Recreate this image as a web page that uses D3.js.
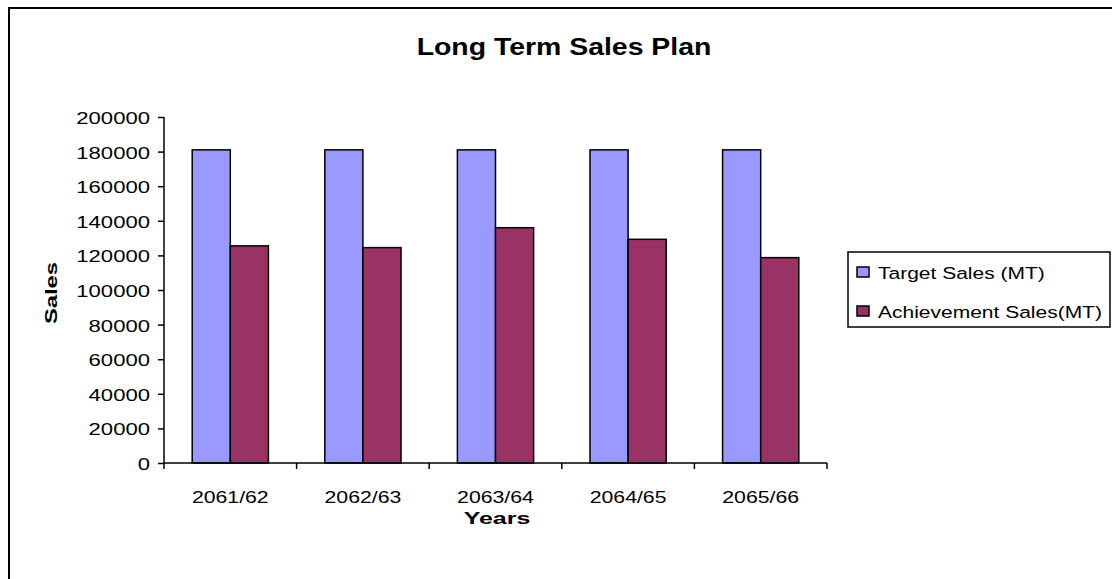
<!DOCTYPE html>
<html>
<head>
<meta charset="utf-8">
<script src="https://cdn.jsdelivr.net/npm/d3@7"></script>
<style>
  html, body { margin: 0; padding: 0; background: #fff; }
  svg { display: block; font-family: "Liberation Sans", Arial, sans-serif; }
</style>
</head>
<body>
<svg id="chart" width="1112" height="579"></svg>
<script>
const categories = ["2061/62", "2062/63", "2063/64", "2064/65", "2065/66"];
const seriesNames = ["Target Sales (MT)", "Achievement Sales(MT)"];
const targetSales = [181000, 181000, 181000, 181000, 181000];
const achievementSales = [125500, 124500, 136000, 129300, 118700];
const yTicks = [0, 20000, 40000, 60000, 80000, 100000, 120000, 140000, 160000, 180000, 200000];
const colors = ["#9999FF", "#993366"];
const titleText = "Long Term Sales Plan";
const xTitle = "Years";
const yTitle = "Sales";

const svg = d3.select("#chart");
const SX = 1.27; // horizontal text stretch seen in the reference

// outer chart frame
svg.append("rect").attr("x", 9).attr("y", 8).attr("width", 1200).attr("height", 700)
  .attr("fill", "none").attr("stroke", "#000").attr("stroke-width", 2);

const plot = { left: 164, right: 827, top: 117, bottom: 463 };

const x = d3.scaleBand().domain(categories).range([plot.left, plot.right]).paddingInner(0).paddingOuter(0);
const inner = d3.scaleBand().domain(seriesNames).range([0, x.bandwidth()]).paddingInner(0).paddingOuter(0.74);
const y = d3.scaleLinear().domain([0, 200000]).range([plot.bottom, plot.top]);

function stretchedText(g, txt, tx, ty, opts) {
  const sx = opts.sx || SX;
  return g.append("text")
    .attr("transform", `translate(${tx},${ty}) ${opts.rotate ? "rotate(-90)" : ""} scale(${sx},1)`)
    .attr("text-anchor", opts.anchor || "middle")
    .attr("dominant-baseline", "central")
    .attr("font-size", opts.size || 17)
    .attr("font-weight", opts.bold ? "bold" : "normal")
    .attr("fill", "#000")
    .text(txt);
}

// bars
const rows = categories.map((c, i) => ({ cat: c, vals: [targetSales[i], achievementSales[i]] }));
const groups = svg.append("g").selectAll("g").data(rows).join("g")
  .attr("transform", d => `translate(${x(d.cat)},0)`);
groups.selectAll("rect").data(d => d.vals.map((v, k) => ({ name: seriesNames[k], v, k })))
  .join("rect")
  .attr("x", d => inner(d.name))
  .attr("y", d => y(d.v))
  .attr("width", inner.bandwidth())
  .attr("height", d => y(0) - y(d.v))
  .attr("fill", d => colors[d.k])
  .attr("stroke", "#000")
  .attr("stroke-width", 1.5);

// y axis
const yAxis = svg.append("g").attr("transform", `translate(${plot.left},0)`)
  .call(d3.axisLeft(y).tickValues(yTicks).tickSize(6).tickFormat(""));
yAxis.select(".domain").attr("stroke", "#000").attr("stroke-width", 1.5).attr("d", `M0,${plot.top}V${plot.bottom}`);
yAxis.selectAll(".tick line").attr("stroke", "#000").attr("stroke-width", 1.5);
const yLab = svg.append("g");
yTicks.forEach(t => stretchedText(yLab, String(t), 150, y(t) + 1, { anchor: "end", sx: 1.3 }));

// x axis
const xAxis = svg.append("g").attr("transform", `translate(0,${plot.bottom})`)
  .call(d3.axisBottom(x).tickSize(0).tickFormat(""));
xAxis.select(".domain").attr("stroke", "#000").attr("stroke-width", 1.5).attr("d", `M${plot.left},0H${plot.right}`);
xAxis.selectAll(".tick line").remove();
const bounds = categories.map(c => x(c)).concat([x(categories[categories.length - 1]) + x.bandwidth()]);
xAxis.selectAll("line.bound").data(bounds).join("line").attr("class", "bound")
  .attr("x1", d => d).attr("x2", d => d).attr("y1", 0).attr("y2", 6)
  .attr("stroke", "#000").attr("stroke-width", 1.5);
const xLab = svg.append("g");
categories.forEach(c => stretchedText(xLab, c, x(c) + x.bandwidth() / 2, 497, { sx: 1.25 }));

// titles
stretchedText(svg, titleText, 564, 47, { size: 23, bold: true, sx: 1.236 });
stretchedText(svg, xTitle, 497, 518, { size: 17, bold: true, sx: 1.47 });
stretchedText(svg, yTitle, 51, 293, { size: 17, bold: true, sx: 1.4, rotate: true });

// legend
const lg = svg.append("g");
lg.append("rect").attr("x", 848).attr("y", 252).attr("width", 262).attr("height", 75)
  .attr("fill", "#fff").attr("stroke", "#000").attr("stroke-width", 1.5);
const legY = [272, 311];
seriesNames.forEach((n, i) => {
  lg.append("rect").attr("x", 857).attr("y", legY[i] - 5).attr("width", 12).attr("height", 10)
    .attr("fill", colors[i]).attr("stroke", "#000").attr("stroke-width", 1.5);
  stretchedText(lg, n, 878, legY[i] + 1, { anchor: "start", sx: 1.235 });
});
</script>
</body>
</html>
